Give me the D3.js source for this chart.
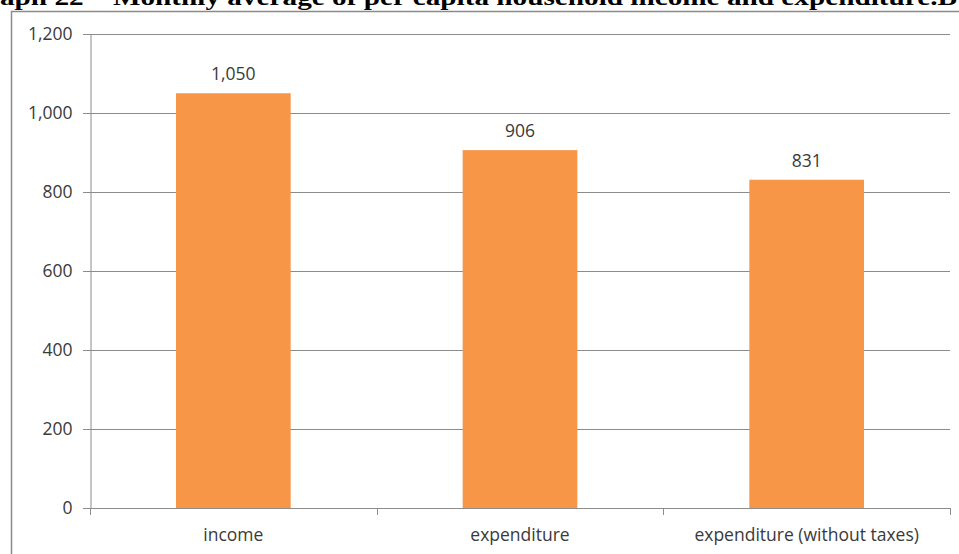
<!DOCTYPE html>
<html>
<head>
<meta charset="utf-8">
<script src="https://cdn.jsdelivr.net/npm/d3@7"></script>
<style>
  html, body { margin: 0; padding: 0; background: #fff; }
  svg { display: block; }
</style>
</head>
<body>
<svg id="chart" width="959" height="554"></svg>
<script>
// Monthly average per capita household income and expenditure
const categories = ["income", "expenditure", "expenditure (without taxes)"];
const values = [1050, 906, 831];
const yTicks = [0, 200, 400, 600, 800, 1000, 1200];
const titleText = "aph 22 \u2013 Monthly average of per capita household income and expenditure.B";

const W = 959, H = 554;
const margin = { left: 90, right: 9, top: 34, bottom: 46 };
const svg = d3.select("#chart");

const fmt = d3.format(",");
const labelFont = "'Open Sans', 'Liberation Sans', sans-serif";
const labelSize = 17.5;
const textColor = "#3a3a3a";
const gridColor = "#8c8c8c";

// heading line, running off the top of the page
svg.append("text")
  .attr("x", 0)
  .attr("y", 5)
  .attr("font-family", "'Liberation Serif', 'Times New Roman', serif")
  .attr("font-weight", "bold")
  .attr("font-size", 23)
  .attr("textLength", 957)
  .attr("lengthAdjust", "spacingAndGlyphs")
  .attr("fill", "#000")
  .text(titleText);

// chart frame
svg.append("line").attr("x1", 11).attr("x2", W).attr("y1", 11.5).attr("y2", 11.5)
  .attr("stroke", "#8a8a8a").attr("stroke-width", 1.5);
svg.append("line").attr("x1", 11.5).attr("x2", 11.5).attr("y1", 11).attr("y2", H)
  .attr("stroke", "#8a8a8a").attr("stroke-width", 1.5);

const x = d3.scaleBand()
  .domain(categories)
  .range([margin.left, W - margin.right])
  .paddingInner(0.6)
  .paddingOuter(0.3);

const y = d3.scaleLinear()
  .domain([0, 1200])
  .range([508, margin.top]);

// horizontal gridlines
svg.append("g")
  .selectAll("line")
  .data(yTicks)
  .join("line")
  .attr("x1", margin.left - 7)
  .attr("x2", W - margin.right)
  .attr("y1", d => Math.round(y(d)) + 0.5)
  .attr("y2", d => Math.round(y(d)) + 0.5)
  .attr("stroke", gridColor)
  .attr("stroke-width", 1);

// value axis
const yAxis = d3.axisLeft(y)
  .tickValues(yTicks)
  .tickFormat(fmt)
  .tickSize(0)
  .tickPadding(18);

const gy = svg.append("g")
  .attr("transform", `translate(${margin.left + 0.5},0)`)
  .call(yAxis);
gy.select(".domain").attr("stroke", gridColor);
gy.selectAll("text")
  .attr("font-family", labelFont)
  .attr("font-size", labelSize)
  .attr("fill", textColor);

// category boundary ticks under the baseline
const boundaries = d3.range(categories.length + 1).map(i => margin.left + i * (W - margin.right - margin.left) / categories.length);
svg.append("g")
  .selectAll("line")
  .data(boundaries)
  .join("line")
  .attr("x1", d => Math.round(d) + 0.5)
  .attr("x2", d => Math.round(d) + 0.5)
  .attr("y1", y(0))
  .attr("y2", y(0) + 7)
  .attr("stroke", gridColor);

// bars
svg.append("g")
  .selectAll("rect")
  .data(values)
  .join("rect")
  .attr("x", (d, i) => x(categories[i]))
  .attr("width", x.bandwidth())
  .attr("y", d => y(d))
  .attr("height", d => y(0) - y(d))
  .attr("fill", "#F79646");

// value labels above bars
svg.append("g")
  .selectAll("text")
  .data(values)
  .join("text")
  .attr("x", (d, i) => x(categories[i]) + x.bandwidth() / 2)
  .attr("y", d => y(d) - 13)
  .attr("text-anchor", "middle")
  .attr("font-family", labelFont)
  .attr("font-size", labelSize)
  .attr("fill", textColor)
  .text(d => fmt(d));

// category labels
svg.append("g")
  .selectAll("text")
  .data(categories)
  .join("text")
  .attr("x", d => x(d) + x.bandwidth() / 2)
  .attr("y", 541)
  .attr("text-anchor", "middle")
  .attr("font-family", labelFont)
  .attr("font-size", labelSize)
  .attr("fill", textColor)
  .text(d => d);
</script>
</body>
</html>
